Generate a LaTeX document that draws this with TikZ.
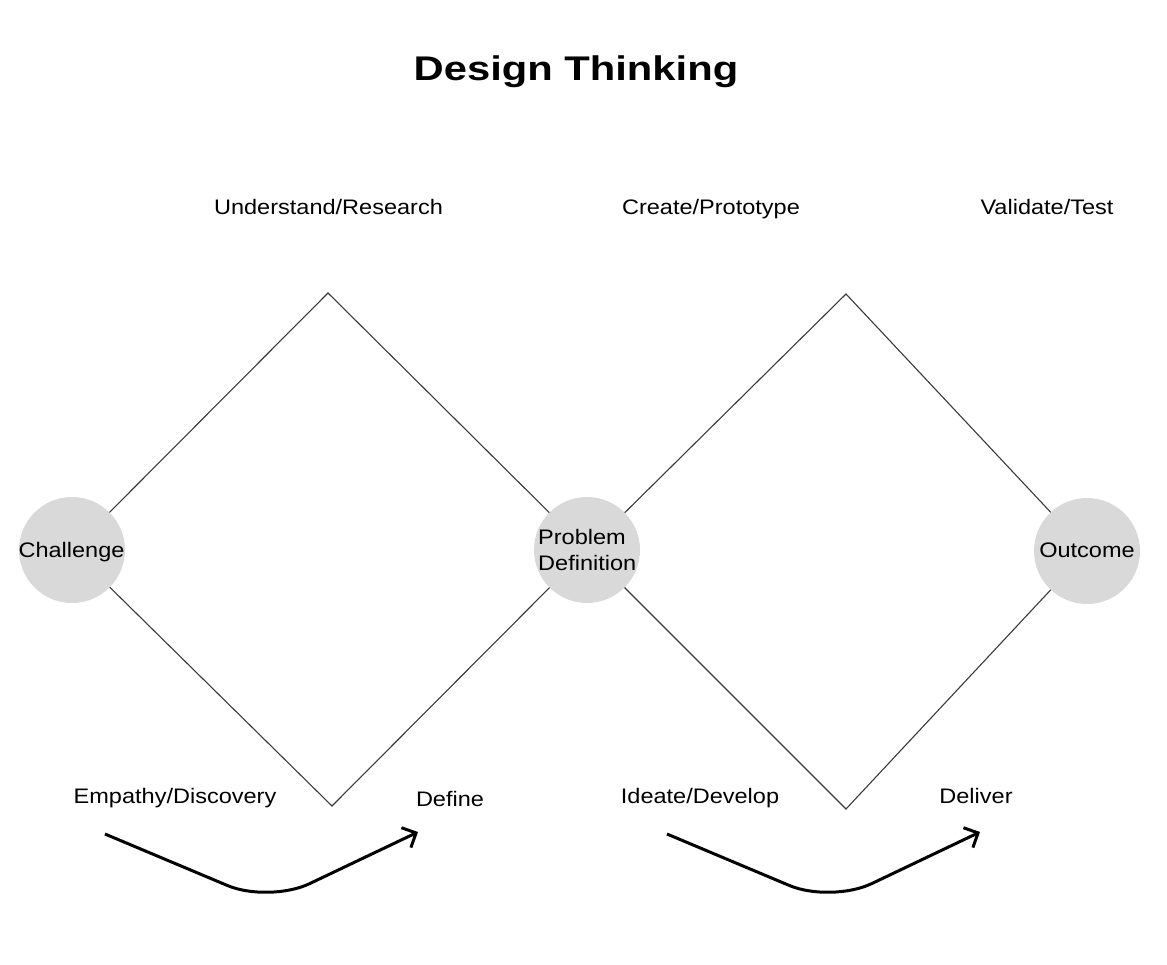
\documentclass[tikz,border=0pt]{standalone}
\usepackage{fontspec}
\setmainfont{Liberation Sans}[FakeStretch=1.12]
\newfontfamily\titlefont{Liberation Sans}[FakeStretch=1.22]
\usetikzlibrary{arrows.meta}
\definecolor{circfill}{HTML}{D9D9D9}
\definecolor{linegray}{HTML}{3A3A3A}
\begin{document}
\begin{tikzpicture}[x=1pt,y=-1pt,
  lbl/.style={inner sep=0pt,anchor=base,font=\fontsize{21}{26}\selectfont},
  stage/.style={circle,fill=circfill,minimum size=106pt,inner sep=0pt},
  edge/.style={draw=linegray,line width=1.1pt},
  flow/.style={draw=black,line width=3pt,rounded corners=45pt,
     -{Straight Barb[length=11pt,width=22pt,line width=3pt]}}]
\useasboundingbox (0,0) rectangle (1167,965);
% coordinates
\coordinate (cC) at (72,550);
\coordinate (cP) at (587,550);
\coordinate (cO) at (1087,551);
\coordinate (t1) at (328,293);
\coordinate (b1) at (332,806);
\coordinate (t2) at (846,294);
\coordinate (b2) at (846,809);
% diamond edges
\draw[edge] (cC) -- (t1) -- (cP);
\draw[edge] (cC) -- (b1) -- (cP);
\draw[edge] (cP) -- (t2) -- (cO);
\draw[edge] (cP) -- (b2) -- (cO);
% circles
\node[stage] (challenge) at (cC) {};
\node[stage] (problem) at (cP) {};
\node[stage] (outcome) at (cO) {};
\node[lbl] (challengeT) at (71.5,557) {Challenge};
\node[lbl] (outcomeT) at (1087,557) {Outcome};
\node[lbl,anchor=base west] (problemT1) at (538,544) {Problem};
\node[lbl,anchor=base west] (problemT2) at (538,570) {Definition};
% title
\node[inner sep=0pt,anchor=base,font=\titlefont\bfseries\fontsize{34.2}{40}\selectfont] (title) at (576,81) {Design Thinking};
% top labels
\node[lbl] (understand) at (328.5,215) {Understand/Research};
\node[lbl] (create) at (711,215) {Create/Prototype};
\node[lbl] (validate) at (1047,215) {Validate/Test};
% bottom labels
\node[lbl] (empathy) at (175,803) {Empathy/Discovery};
\node[lbl] (define) at (450,806) {Define};
\node[lbl] (ideate) at (700,803) {Ideate/Develop};
\node[lbl] (deliver) at (976,803) {Deliver};
% flow arrows
\coordinate (a1s) at (105,834);
\coordinate (a1c) at (269,903);
\coordinate (a1e) at (418,832);
\coordinate (a2s) at (667,834);
\coordinate (a2c) at (831,903);
\coordinate (a2e) at (980,832);
\draw[flow] (a1s) -- (a1c) -- (a1e);
\draw[flow] (a2s) -- (a2c) -- (a2e);
\end{tikzpicture}
\end{document}
